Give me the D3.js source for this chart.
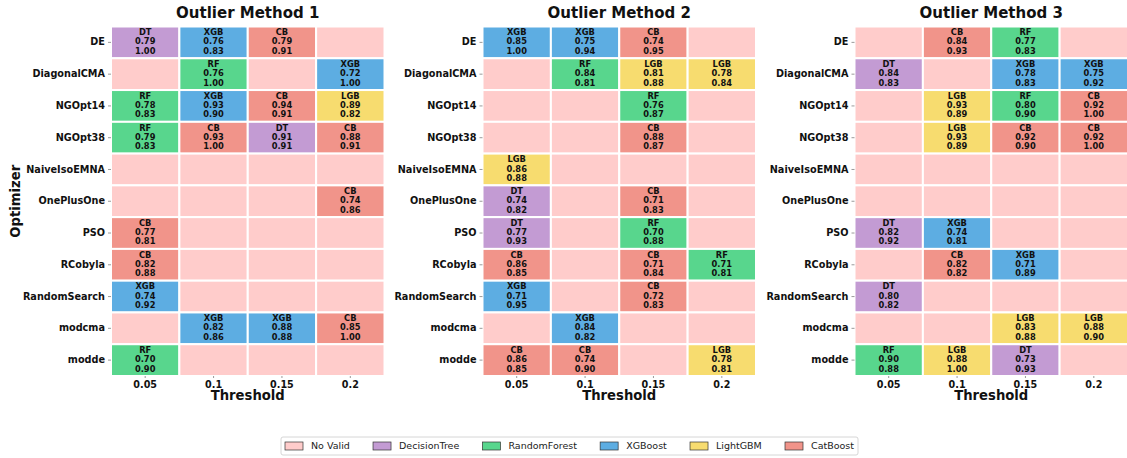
<!DOCTYPE html>
<html><head><meta charset="utf-8">
<script src="https://cdn.jsdelivr.net/npm/d3@7"></script>
<style>body{margin:0;background:#fff}svg{display:block}text{font-family:"DejaVu Sans",sans-serif}</style>
</head><body><svg id="c" width="1127" height="458"></svg>
<script>
const optimizers = ["DE","DiagonalCMA","NGOpt14","NGOpt38","NaiveIsoEMNA","OnePlusOne","PSO","RCobyla","RandomSearch","modcma","modde"];
const thresholds = ["0.05","0.1","0.15","0.2"];
const methodTitles = ["Outlier Method 1","Outlier Method 2","Outlier Method 3"];
const legendLabels = ["No Valid","DecisionTree","RandomForest","XGBoost","LightGBM","CatBoost"];
const modelCodes = ["","DT","RF","XGB","LGB","CB"];
const modelColors = ["#FFCCCB","#C39BD3","#58D68D","#5DADE2","#F7DC6F","#F1948A"];

// model per cell ("" = no valid), accuracy, ratio
const m1Model = [["DT","XGB","CB",""],["","RF","","XGB"],["RF","XGB","CB","LGB"],["RF","CB","DT","CB"],["","","",""],["","","","CB"],["CB","","",""],["CB","","",""],["XGB","","",""],["","XGB","XGB","CB"],["RF","","",""]];
const m1Acc = [[0.79,0.76,0.79,null],[null,0.76,null,0.72],[0.78,0.93,0.94,0.89],[0.79,0.93,0.91,0.88],[null,null,null,null],[null,null,null,0.74],[0.77,null,null,null],[0.82,null,null,null],[0.74,null,null,null],[null,0.82,0.88,0.85],[0.70,null,null,null]];
const m1Ratio = [[1.00,0.83,0.91,null],[null,1.00,null,1.00],[0.83,0.90,0.91,0.82],[0.83,1.00,0.91,0.91],[null,null,null,null],[null,null,null,0.86],[0.81,null,null,null],[0.88,null,null,null],[0.92,null,null,null],[null,0.86,0.88,1.00],[0.90,null,null,null]];

const m2Model = [["XGB","XGB","CB",""],["","RF","LGB","LGB"],["","","RF",""],["","","CB",""],["LGB","","",""],["DT","","CB",""],["DT","","RF",""],["CB","","CB","RF"],["XGB","","CB",""],["","XGB","",""],["CB","CB","","LGB"]];
const m2Acc = [[0.85,0.75,0.74,null],[null,0.84,0.81,0.78],[null,null,0.76,null],[null,null,0.88,null],[0.86,null,null,null],[0.74,null,0.71,null],[0.77,null,0.70,null],[0.86,null,0.71,0.71],[0.71,null,0.72,null],[null,0.84,null,null],[0.86,0.74,null,0.78]];
const m2Ratio = [[1.00,0.94,0.95,null],[null,0.81,0.88,0.84],[null,null,0.87,null],[null,null,0.87,null],[0.88,null,null,null],[0.82,null,0.83,null],[0.93,null,0.88,null],[0.85,null,0.84,0.81],[0.95,null,0.83,null],[null,0.82,null,null],[0.85,0.90,null,0.81]];

const m3Model = [["","CB","RF",""],["DT","","XGB","XGB"],["","LGB","RF","CB"],["","LGB","CB","CB"],["","","",""],["","","",""],["DT","XGB","",""],["","CB","XGB",""],["DT","","",""],["","","LGB","LGB"],["RF","LGB","DT",""]];
const m3Acc = [[null,0.84,0.77,null],[0.84,null,0.78,0.75],[null,0.93,0.80,0.92],[null,0.93,0.92,0.92],[null,null,null,null],[null,null,null,null],[0.82,0.74,null,null],[null,0.82,0.71,null],[0.80,null,null,null],[null,null,0.83,0.88],[0.90,0.88,0.73,null]];
const m3Ratio = [[null,0.93,0.83,null],[0.83,null,0.83,0.92],[null,0.89,0.90,1.00],[null,0.89,0.90,1.00],[null,null,null,null],[null,null,null,null],[0.92,0.81,null,null],[null,0.82,0.89,null],[0.82,null,null,null],[null,null,0.88,0.90],[0.88,1.00,0.93,null]];

const methods = [[m1Model,m1Acc,m1Ratio],[m2Model,m2Acc,m2Ratio],[m3Model,m3Acc,m3Ratio]];

const svg = d3.select("#c");
const color = d3.scaleOrdinal().domain(modelCodes).range(modelColors);
const panelLeft = [111, 482.5, 854.5];
const panelW = 273.5, plotTop = 26.5, plotBottom = 376;
const y = d3.scaleBand().domain(optimizers).range([plotTop, plotBottom]);
const fmt = d3.format(".2f");

methods.forEach(([mod, acc, rat], pi) => {
  const x = d3.scaleBand().domain(thresholds).range([panelLeft[pi], panelLeft[pi] + panelW]);
  const g = svg.append("g");
  const cells = [];
  optimizers.forEach((o, r) => thresholds.forEach((t, c) => cells.push({o, t, m: mod[r][c], a: acc[r][c], q: rat[r][c]})));
  g.selectAll("rect.cell").data(cells).join("rect")
    .attr("x", d => x(d.t)).attr("y", d => y(d.o))
    .attr("width", x.bandwidth()).attr("height", y.bandwidth())
    .attr("fill", d => color(d.m)).attr("stroke", "#fff").attr("stroke-width", 2);
  const lab = g.selectAll("text.cl").data(cells.filter(d => d.m)).join("text")
    .attr("text-anchor", "middle").attr("font-size", 8.3).attr("font-weight", "bold").attr("fill", "#111");
  lab.each(function(d) {
    const cx = x(d.t) + x.bandwidth() / 2, cy = y(d.o) + y.bandwidth() / 2 - 0.8;
    [d.m, fmt(d.a), fmt(d.q)].forEach((s, i) => {
      d3.select(this).append("tspan").attr("x", cx).attr("y", cy + (i - 1) * 9.3).attr("dy", "0.35em").text(s);
    });
  });
  const ya = d3.axisLeft(y).tickSize(3).tickPadding(3);
  const yg = g.append("g").attr("transform", `translate(${panelLeft[pi]},0)`).call(ya);
  yg.select(".domain").remove();
  yg.selectAll("line").attr("stroke", "#555").attr("stroke-width", 0.6);
  yg.selectAll("text").attr("font-size", 9.7).attr("font-weight", "bold").attr("fill", "#111").style("font-family", "DejaVu Sans");
  const xa = d3.axisBottom(x).tickSize(2).tickPadding(3);
  const xg = g.append("g").attr("transform", `translate(0,${plotBottom})`).call(xa);
  xg.select(".domain").remove();
  xg.selectAll("line").attr("stroke", "#555").attr("stroke-width", 0.6);
  xg.selectAll("text").attr("font-size", 9.6).attr("font-weight", "bold").attr("fill", "#111").style("font-family", "DejaVu Sans");
  const cxp = panelLeft[pi] + panelW / 2;
  svg.append("text").attr("x", cxp).attr("y", 17.5).attr("text-anchor", "middle")
    .attr("font-size", 15).attr("font-weight", "bold").attr("fill", "#111").text(methodTitles[pi]);
  svg.append("text").attr("x", cxp).attr("y", 400).attr("text-anchor", "middle")
    .attr("font-size", 13.2).attr("font-weight", "bold").attr("fill", "#111").text("Threshold");
});
svg.append("text").attr("transform", `translate(20,${(plotTop + plotBottom) / 2}) rotate(-90)`).attr("text-anchor", "middle")
  .attr("font-size", 13.2).attr("font-weight", "bold").attr("fill", "#111").text("Optimizer");

// legend
const lg = svg.append("g");
const fs = 9.5, sw = 18, sh = 8, pad = 8;
const widths = [];
const itemGs = legendLabels.map((l, i) => {
  const it = lg.append("g");
  it.append("rect").attr("x", 0).attr("y", -sh / 2).attr("width", sw).attr("height", sh)
    .attr("fill", modelColors[i]).attr("stroke", "#333").attr("stroke-width", 0.7);
  const t = it.append("text").attr("x", sw + pad).attr("y", 0).attr("dy", "0.35em")
    .attr("font-size", fs).attr("fill", "#222").text(l);
  widths.push(sw + pad + t.node().getComputedTextLength());
  return it;
});
const boxL = 281, boxR = 858, inner = 4;
const gap = (boxR - boxL - 2 * inner - d3.sum(widths)) / (legendLabels.length - 1);
let px = boxL + inner;
itemGs.forEach((it, i) => { it.attr("transform", `translate(${px},446)`); px += widths[i] + gap; });
lg.insert("rect", ":first-child").attr("x", boxL).attr("y", 437).attr("width", boxR - boxL).attr("height", 18)
  .attr("rx", 2).attr("fill", "#fff").attr("stroke", "#ccc").attr("stroke-width", 0.8);
</script></body></html>
